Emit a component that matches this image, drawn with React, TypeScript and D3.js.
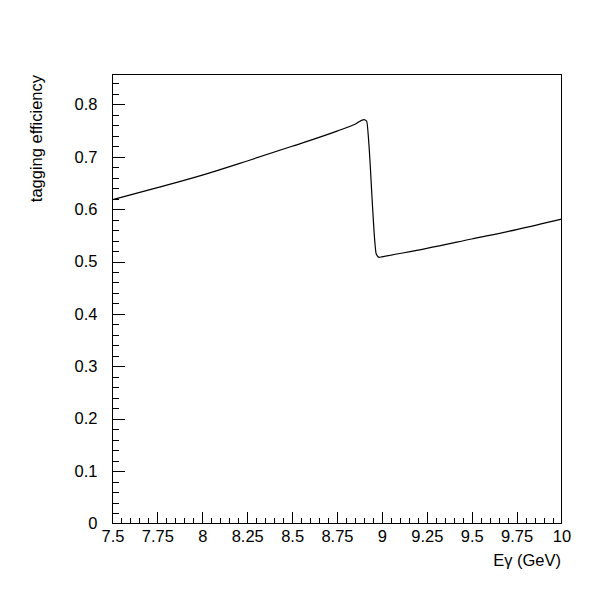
import * as d3 from 'd3';
import React, { useEffect, useRef } from 'react';

// photon energy (GeV) and tagging efficiency
const energy = [7.5, 7.75, 8.0, 8.25, 8.5, 8.75, 8.85, 8.9, 8.915, 8.93, 8.946, 8.96, 8.968, 8.985, 9.0, 9.25, 9.5, 9.75, 10.0];
const efficiency = [0.618, 0.641, 0.665, 0.692, 0.72, 0.749, 0.762, 0.771, 0.768, 0.712, 0.616, 0.54, 0.515, 0.508, 0.509, 0.525, 0.543, 0.561, 0.581];

const xMajorTicks = [7.5, 7.75, 8, 8.25, 8.5, 8.75, 9, 9.25, 9.5, 9.75, 10];
const yMajorTicks = [0, 0.1, 0.2, 0.3, 0.4, 0.5, 0.6, 0.7, 0.8];
const xSubdivisions = 5;
const ySubdivisions = 5;

const xTitle = 'Eγ (GeV)';
const yTitle = 'tagging efficiency';

const W = 600;
const H = 600;
const margin = { top: 74, right: 39, bottom: 77, left: 112 };
const FONT = '"Liberation Sans", Arial, Helvetica, sans-serif';
const FONT_SIZE = '16.5px';

function minorTicks(major: number[], n: number, top?: number) {
  const out: number[] = [];
  const step = (major[1] - major[0]) / n;
  const end = top ?? major[major.length - 1];
  for (let v = major[0]; v <= end + 1e-9; v += step) out.push(+v.toFixed(6));
  return out;
}

export default function App() {
  const svgRef = useRef<SVGSVGElement>(null);

  useEffect(() => {
    const svg = d3.select(svgRef.current);
    svg.selectAll('*').remove();

    const innerW = W - margin.left - margin.right;
    const innerH = H - margin.top - margin.bottom;

    const x = d3.scaleLinear().domain([7.5, 10]).range([0, innerW]);
    const y = d3.scaleLinear().domain([0, 0.857]).range([innerH, 0]);

    const g = svg
      .append('g')
      .attr('transform', `translate(${margin.left + 0.5},${margin.top + 0.5})`);

    const [x0, x1] = x.domain();
    const [y0] = y.domain();

    // minor ticks (skip the ones lying on the frame)
    const xMinor = d3
      .axisBottom(x)
      .tickValues(minorTicks(xMajorTicks, xSubdivisions).filter(v => v > x0 && v < x1))
      .tickSize(-6)
      .tickFormat(() => '');
    const yMinor = d3
      .axisLeft(y)
      .tickValues(minorTicks(yMajorTicks, ySubdivisions, 0.857).filter(v => v > y0))
      .tickSize(-6)
      .tickFormat(() => '');

    g.append('g').attr('transform', `translate(0,${innerH})`).call(xMinor);
    g.append('g').call(yMinor);

    // major ticks + labels
    const xAxis = d3
      .axisBottom(x)
      .tickValues(xMajorTicks)
      .tickSize(-12)
      .tickPadding(7)
      .tickFormat(d => String(d));
    const yAxis = d3
      .axisLeft(y)
      .tickValues(yMajorTicks)
      .tickSize(-12)
      .tickPadding(15)
      .tickFormat(d => String(d));

    const gx = g.append('g').attr('transform', `translate(0,${innerH})`).call(xAxis);
    const gy = g.append('g').call(yAxis);

    // hide tick lines that would sit on the frame
    gx.selectAll<SVGGElement, number>('.tick')
      .filter(d => d === x0 || d === x1)
      .select('line')
      .remove();
    gy.selectAll<SVGGElement, number>('.tick')
      .filter(d => d === y0)
      .select('line')
      .remove();

    g.selectAll('.domain').remove();
    g.selectAll('.tick line').attr('stroke', '#000').attr('shape-rendering', 'crispEdges');
    g.selectAll('.tick text')
      .attr('fill', '#000')
      .style('font-family', FONT)
      .style('font-size', FONT_SIZE);

    // frame
    g.append('rect')
      .attr('width', innerW)
      .attr('height', innerH)
      .attr('fill', 'none')
      .attr('stroke', '#000')
      .attr('shape-rendering', 'crispEdges');

    const pts: [number, number][] = energy.map((e, i) => [e, efficiency[i]]);
    const lineGen = d3
      .line<[number, number]>()
      .x(d => x(d[0]))
      .y(d => y(d[1]))
      .curve(d3.curveMonotoneX);

    g.append('path')
      .datum(pts)
      .attr('d', lineGen)
      .attr('fill', 'none')
      .attr('stroke', '#000')
      .attr('stroke-width', 1.2);

    // axis titles
    svg
      .append('text')
      .attr('x', margin.left + innerW)
      .attr('y', 566)
      .attr('text-anchor', 'end')
      .style('font-family', FONT)
      .style('font-size', FONT_SIZE)
      .text(xTitle);

    svg
      .append('text')
      .attr('transform', `translate(42,${margin.top + 1}) rotate(-90)`)
      .attr('text-anchor', 'end')
      .style('font-family', FONT)
      .style('font-size', FONT_SIZE)
      .text(yTitle);
  }, []);

  return (
    <svg
      ref={svgRef}
      width={W}
      height={H}
      style={{ position: 'absolute', left: 0, top: 0, background: '#fff' }}
    />
  );
}
